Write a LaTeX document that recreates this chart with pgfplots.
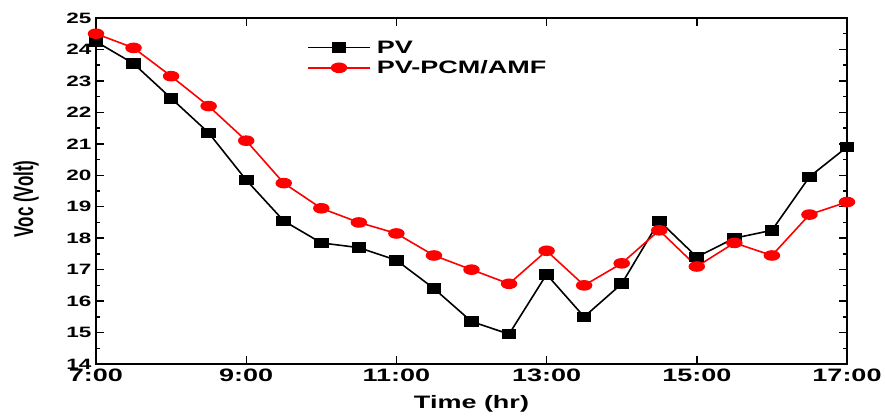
\documentclass[border=0pt]{standalone}
\usepackage{graphicx}
\usepackage{pgfplots}
\pgfplotsset{compat=1.18}
\usepackage{fontspec}
\setmainfont{Liberation Sans}[FakeStretch=1.5]
\newfontfamily\plainfont{Liberation Sans}
\begin{document}
\begin{tikzpicture}
\useasboundingbox (-96pt,-54pt) rectangle (789pt,364pt);
\begin{axis}[
  at={(0pt,0pt)}, anchor=south west,
  scale only axis, width=751pt, height=346pt,
  xmin=7, xmax=17, ymin=14, ymax=25,
  xtick={7,9,11,13,15,17},
  xticklabels={7:00,9:00,11:00,13:00,15:00,17:00},
  ytick={14,15,...,25},
  minor ytick={14.5,15.5,...,24.5},
  tick align=inside,
  major tick length=8pt, minor tick length=4pt,
  axis line style={line width=1.6pt},
  every tick/.style={line width=1.4pt, black},
  /pgf/number format/assume math mode=true,
  xticklabel style={font=\bfseries\fontsize{18}{18}\selectfont, yshift=-1pt},
  yticklabel style={font=\bfseries\fontsize{15}{15}\selectfont, xshift=-1pt},
  xlabel={Time (hr)},
  xlabel style={font=\bfseries\fontsize{18}{18}\selectfont, at={(axis description cs:0.5,0)}, anchor=center, yshift=-40pt},
  ylabel={\scalebox{1}[1.6]{Voc (Volt)}},
  ylabel style={font=\plainfont\bfseries\fontsize{17}{17}\selectfont, at={(axis description cs:-0.093,0.477)}, anchor=center},
  legend style={draw=none, fill=none, inner sep=0pt, at={(axis cs:9.81,24.35)}, anchor=north west,
    font=\bfseries\fontsize{18}{18}\selectfont, row sep=2pt},
  legend cell align=left,
  legend image code/.code={\draw[#1, mark repeat=2, mark phase=2] plot coordinates {(0pt,0pt)(31pt,0pt)(62pt,0pt)};},
]
\addplot[black, line width=1.6pt, mark=square*, mark size=4.5pt, mark options={xscale=1.45}] coordinates {
(7,24.25)(7.5,23.55)(8,22.45)(8.5,21.35)(9,19.85)(9.5,18.55)(10,17.85)(10.5,17.7)(11,17.3)(11.5,16.4)
(12,15.35)(12.5,14.95)(13,16.85)(13.5,15.5)(14,16.55)(14.5,18.55)(15,17.4)(15.5,18.0)(16,18.25)(16.5,19.95)(17,20.9)};
\addlegendentry{\hspace{4pt}PV}
\addplot[red, line width=1.6pt, mark=*, mark size=4.5pt, mark options={xscale=1.65}] coordinates {
(7,24.5)(7.5,24.05)(8,23.15)(8.5,22.2)(9,21.1)(9.5,19.75)(10,18.95)(10.5,18.5)(11,18.15)(11.5,17.45)
(12,17.0)(12.5,16.55)(13,17.6)(13.5,16.5)(14,17.2)(14.5,18.25)(15,17.1)(15.5,17.85)(16,17.45)(16.5,18.75)(17,19.15)};
\addlegendentry{\hspace{4pt}PV-PCM/AMF}
\end{axis}
\end{tikzpicture}
\end{document}
